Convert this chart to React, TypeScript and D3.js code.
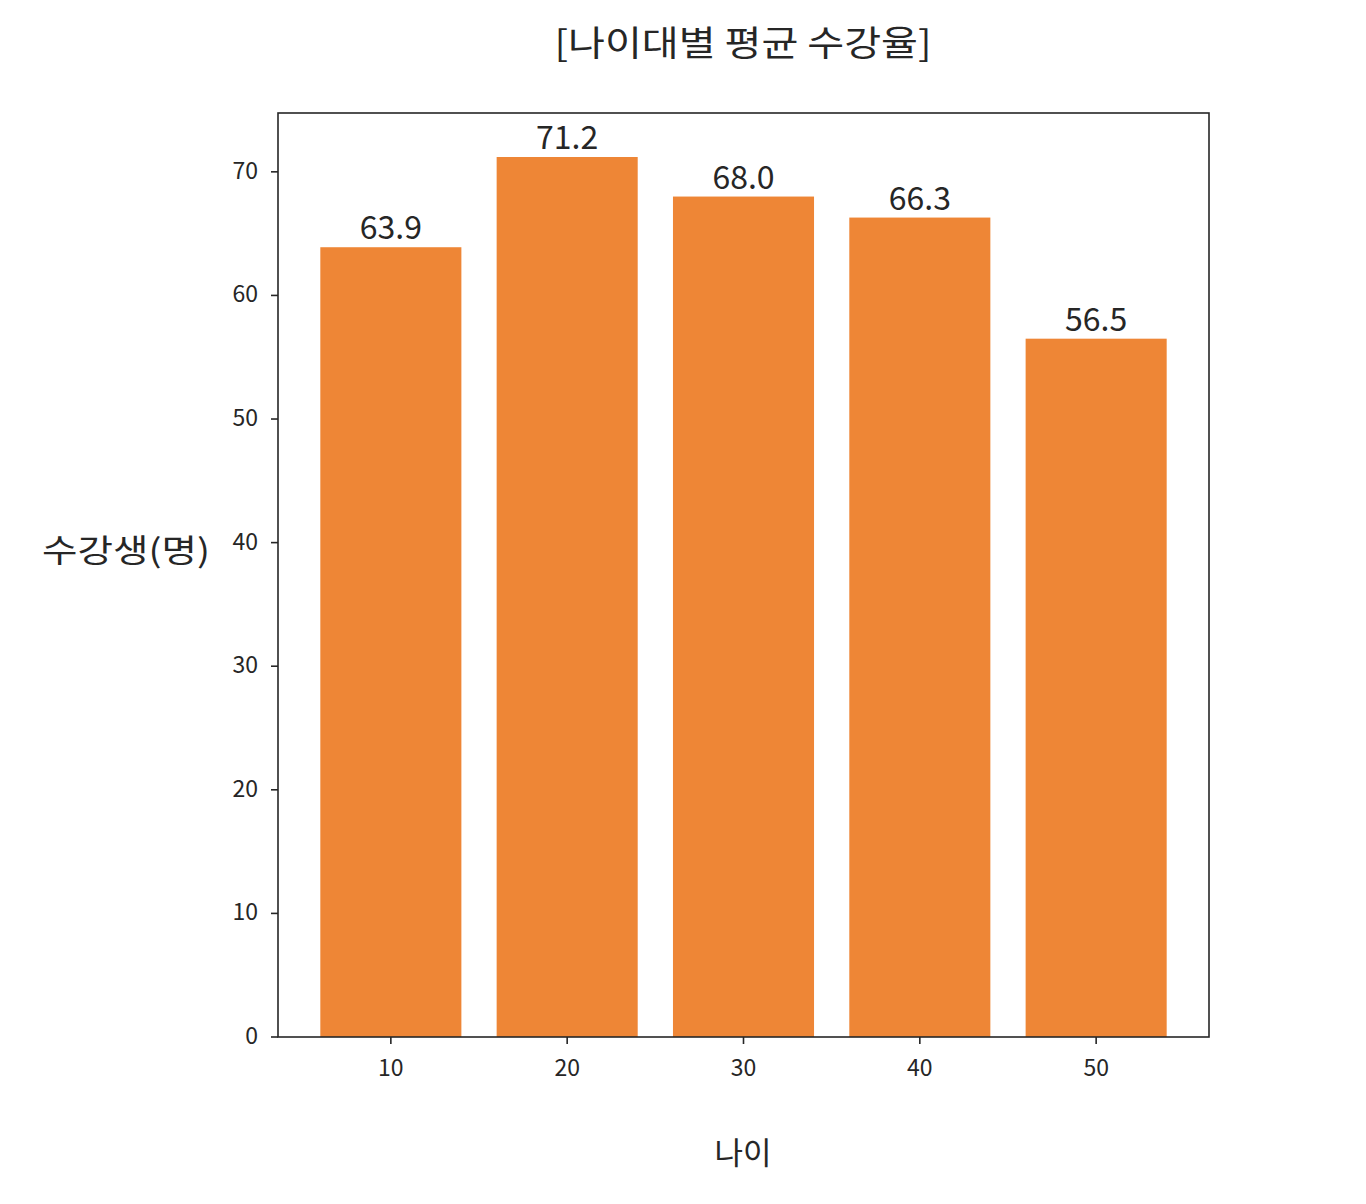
import React, { useRef, useEffect } from 'react';
import * as d3 from 'd3';

const ages = [10, 20, 30, 40, 50];
const rates = [63.9, 71.2, 68.0, 66.3, 56.5];
const yTicks = [0, 10, 20, 30, 40, 50, 60, 70];

const FONT = '"Noto Sans CJK KR", "Noto Sans", sans-serif';
const TEXT = '#262626';

const App = () => {
  const ref = useRef(null);

  useEffect(() => {
    const svg = d3.select(ref.current);
    svg.selectAll('*').remove();

    const left = 278, right = 1209, top = 113, bottom = 1037;

    const x = d3.scaleLinear().domain([3.6, 56.4]).range([left, right]);
    const y = d3.scaleLinear().domain([0, 74.76]).range([bottom, top]);
    const barW = 8;

    const g = svg.append('g');

    g.selectAll('rect.bar')
      .data(ages)
      .enter()
      .append('rect')
      .attr('class', 'bar')
      .attr('x', (d) => x(d - barW / 2))
      .attr('width', (d) => x(d + barW / 2) - x(d - barW / 2))
      .attr('y', (d, i) => y(rates[i]))
      .attr('height', (d, i) => y(0) - y(rates[i]))
      .attr('fill', '#EE8636');

    g.selectAll('text.val')
      .data(ages)
      .enter()
      .append('text')
      .attr('class', 'val')
      .attr('x', (d) => x(d))
      .attr('y', (d, i) => y(rates[i]) - 8)
      .attr('text-anchor', 'middle')
      .attr('font-family', FONT)
      .attr('font-size', 32)
      .attr('fill', TEXT)
      .text((d, i) => rates[i].toFixed(1));

    // frame
    g.append('rect')
      .attr('x', left)
      .attr('y', top)
      .attr('width', right - left)
      .attr('height', bottom - top)
      .attr('fill', 'none')
      .attr('stroke', TEXT)
      .attr('stroke-width', 1.6);

    // y ticks
    const yt = g.selectAll('g.yt').data(yTicks).enter().append('g')
      .attr('transform', (d) => `translate(0,${y(d)})`);
    yt.append('line').attr('x1', left - 7).attr('x2', left)
      .attr('stroke', TEXT).attr('stroke-width', 1.6);
    yt.append('text')
      .attr('x', left - 20)
      .attr('dy', '0.3em')
      .attr('text-anchor', 'end')
      .attr('font-family', FONT)
      .attr('font-size', 23)
      .attr('fill', TEXT)
      .text((d) => d);

    // x ticks
    const xt = g.selectAll('g.xt').data(ages).enter().append('g')
      .attr('transform', (d) => `translate(${x(d)},0)`);
    xt.append('line').attr('y1', bottom).attr('y2', bottom + 7)
      .attr('stroke', TEXT).attr('stroke-width', 1.6);
    xt.append('text')
      .attr('y', bottom + 39)
      .attr('text-anchor', 'middle')
      .attr('font-family', FONT)
      .attr('font-size', 23)
      .attr('fill', TEXT)
      .text((d) => d);

    // title & labels
    svg.append('text')
      .attr('x', 743).attr('y', 56)
      .attr('text-anchor', 'middle')
      .attr('font-family', FONT).attr('font-size', 35).attr('fill', TEXT)
      .attr('textLength', 377).attr('lengthAdjust', 'spacingAndGlyphs')
      .text('[나이대별 평균 수강율]');

    svg.append('text')
      .attr('x', 743).attr('y', 1164)
      .attr('text-anchor', 'middle')
      .attr('font-family', FONT).attr('font-size', 31).attr('fill', TEXT)
      .text('나이');

    svg.append('text')
      .attr('x', 126).attr('y', 562)
      .attr('text-anchor', 'middle')
      .attr('font-family', FONT).attr('font-size', 32).attr('fill', TEXT)
      .attr('textLength', 168).attr('lengthAdjust', 'spacingAndGlyphs')
      .text('수강생(명)');
  }, []);

  return (
    <svg ref={ref} width={1366} height={1204}
      style={{ position: 'absolute', left: 0, top: 0, background: '#fff' }} />
  );
};

export default App;
